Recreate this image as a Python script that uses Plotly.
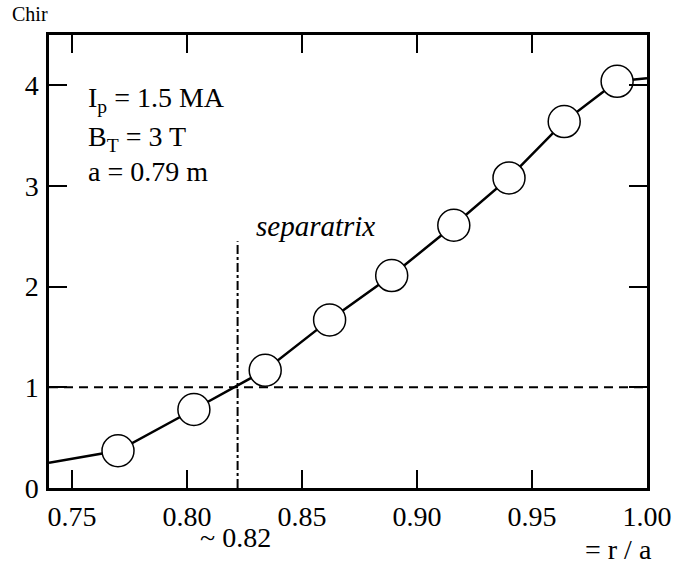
import plotly.graph_objects as go

# data
r_points = [0.770, 0.803, 0.834, 0.862, 0.889, 0.916, 0.940, 0.964, 0.987]
chir_points = [0.37, 0.78, 1.17, 1.67, 2.11, 2.61, 3.08, 3.64, 4.04]
# line extends to plot edges
r_line = [0.74] + r_points + [1.0]
chir_line = [0.25] + chir_points + [4.07]

x_ticks = [0.75, 0.80, 0.85, 0.90, 0.95, 1.00]
x_ticklabels = ["0.75", "0.80", "0.85", "0.90", "0.95", "1.00"]
y_ticks = [0, 1, 2, 3, 4]
separatrix_r = 0.822
separatrix_top = 2.45

FONT = "Liberation Serif"
W, H = 684, 565
ML, MR, MT, MB = 49, 30, 35, 77

fig = go.Figure()
fig.add_trace(go.Scatter(x=r_line, y=chir_line, mode="lines",
                         line=dict(color="black", width=2.5), showlegend=False,
                         hoverinfo="skip"))
fig.add_trace(go.Scatter(x=r_points, y=chir_points, mode="markers",
                         marker=dict(symbol="circle", size=32, color="white",
                                     line=dict(color="black", width=1.5)),
                         showlegend=False))

# reference lines
fig.add_shape(type="line", x0=0.74, x1=1.0, y0=1, y1=1, xref="x", yref="y",
              line=dict(color="black", width=2, dash="9px,6px"), layer="below")
fig.add_shape(type="line", x0=separatrix_r, x1=separatrix_r, y0=0, y1=separatrix_top,
              xref="x", yref="y", line=dict(color="black", width=2, dash="dashdot"),
              layer="below")

fig.update_xaxes(range=[0.74, 1.0], tickvals=x_ticks, ticktext=x_ticklabels,
                 ticks="inside", ticklen=18, tickwidth=2, tickcolor="black",
                 showline=True, linewidth=2.5, linecolor="black", mirror="ticks",
                 showgrid=False, zeroline=False, ticklabelstandoff=2,
                 tickfont=dict(family=FONT, size=28, color="black"))
fig.update_yaxes(range=[0, 4.5], tickvals=y_ticks,
                 ticks="inside", ticklen=18, tickwidth=2, tickcolor="black",
                 showline=True, linewidth=2.5, linecolor="black", mirror="ticks",
                 showgrid=False, zeroline=False, ticklabelstandoff=2,
                 tickfont=dict(family=FONT, size=28, color="black"))

# text: (pixel x, pixel y, text, size)
texts = [
    (10, 14, "Chir", 20),
    (86, 100, "I<sub>p</sub> = 1.5 MA", 28),
    (86, 138, "B<sub>T</sub> = 3 T", 28),
    (86, 171, "a = 0.79 m", 28),
    (256, 226, "<i>separatrix</i>", 29),
    (200, 537, "~ 0.82", 28),
    (589, 549, "= r / a", 28),
]
pw = W - ML - MR
ph = H - MT - MB
annotations = []
for px, py, t, s in texts:
    annotations.append(dict(x=(px - ML) / pw, y=(H - MB - py) / ph, xref="paper",
                            yref="paper", text=t, showarrow=False, xanchor="left",
                            yanchor="middle",
                            font=dict(family=FONT, size=s, color="black")))

fig.update_layout(width=W, height=H, paper_bgcolor="white", plot_bgcolor="white",
                  margin=dict(l=ML, r=MR, t=MT, b=MB), annotations=annotations)
fig.write_html("out.html", config={"displayModeBar": False},
               post_script="document.body.style.margin='0';document.body.style.overflow='hidden';")
